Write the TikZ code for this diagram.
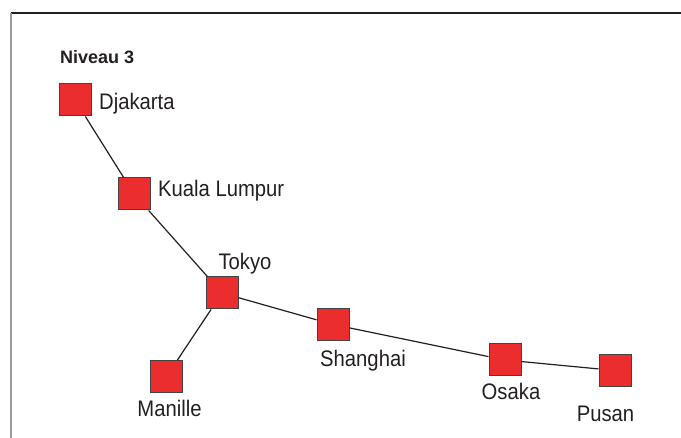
\documentclass[tikz,border=0pt]{standalone}
\usepackage{fontspec}
\setmainfont{Liberation Sans}
\newfontfamily\lblfont[FakeStretch=0.9]{Liberation Sans}
\definecolor{boxred}{RGB}{236,45,46}
\definecolor{ink}{RGB}{35,31,32}
\tikzset{
  city/.style={draw=ink!85, line width=1pt, fill=boxred, minimum size=32pt, inner sep=0pt},
  lbl/.style={text=ink, font=\lblfont\fontsize{22.5}{24}\selectfont, inner sep=0pt},
  link/.style={draw=ink, line width=1.2pt}
}
\begin{document}
\begin{tikzpicture}[x=1pt,y=-1pt]
\useasboundingbox (0,0) rectangle (681,438);
\draw[ink, line width=1.3pt] (11,13) -- (681,13);
\draw[gray!80, line width=1.6pt] (11,13) -- (11,438);
\node[text=ink, inner sep=0pt, font=\bfseries\fontsize{18}{20}\selectfont, anchor=base west] (niv) at (60,64) {Niveau 3};

\node[city] (dja) at (75,100) {};
\node[city] (kl) at (134,194) {};
\node[city] (tok) at (222,293) {};
\node[city] (man) at (166.5,376.5) {};
\node[city] (sha) at (333,324.5) {};
\node[city] (osa) at (505,360) {};
\node[city] (pus) at (615,370.5) {};

\draw[link] (dja) -- (kl);
\draw[link] (kl) -- (tok);
\draw[link] (tok) -- (man);
\draw[link] (tok) -- (sha);
\draw[link] (sha) -- (osa);
\draw[link] (osa) -- (pus);

\node[lbl, anchor=base west] (ldja) at (99,110) {Djakarta};
\node[lbl, anchor=base west] (lkl) at (158,197) {Kuala Lumpur};
\node[lbl, anchor=base] (ltok) at (245,270) {Tokyo};
\node[lbl, anchor=base] (lsha) at (363,366.5) {Shanghai};
\node[lbl, anchor=base] (lman) at (169.5,417) {Manille};
\node[lbl, anchor=base] (losa) at (511,400) {Osaka};
\node[lbl, anchor=base] (lpus) at (605.5,421.5) {Pusan};
\end{tikzpicture}
\end{document}
